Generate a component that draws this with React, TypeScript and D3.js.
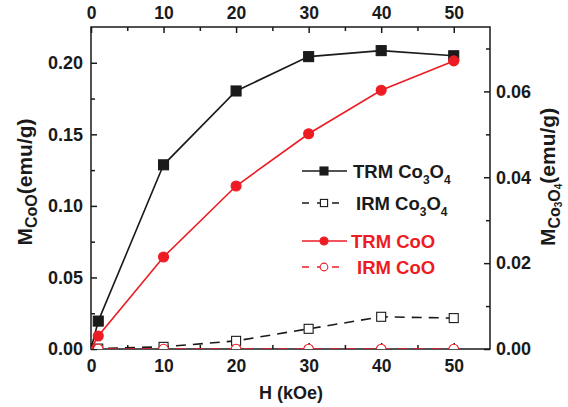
import React, { useRef, useEffect } from 'react';
import * as d3 from 'd3';

// field (kOe) and remanent magnetisation
const fieldH = [0, 1, 10, 20, 30, 40, 50];
const trmCo3O4 = [0, 0.0065, 0.0429, 0.0601, 0.0681, 0.0695, 0.0683];
const irmCo3O4 = [0, 0.0001, 0.0005, 0.0019, 0.0047, 0.0075, 0.0072];
const trmCoO = [0, 0.0091, 0.0643, 0.1139, 0.1504, 0.1808, 0.2013];
const irmCoO = [0, 0, 0, 0, 0, 0, 0];

const xTicks = [0, 10, 20, 30, 40, 50];
const xMinor = [5, 15, 25, 35, 45];
const leftTicks = [0, 0.05, 0.1, 0.15, 0.2];
const leftMinor = [0.025, 0.075, 0.125, 0.175];
const rightTicks = [0, 0.02, 0.04, 0.06];
const rightMinor = [0.01, 0.03, 0.05, 0.07];

const BLACK = '#1a1a1a';
const RED = '#ed1c24';
const FONT = "'Liberation Sans', Arial, sans-serif";

function App() {
  const svgRef = useRef<SVGSVGElement>(null);
  const width = 568;
  const height = 407;
  const m = { left: 91, right: 490, top: 27, bottom: 349 };

  useEffect(() => {
    const svg = d3.select(svgRef.current);
    svg.selectAll('*').remove();

    const x = d3.scaleLinear().domain([0, 55]).range([m.left, m.right]);
    const yL = d3.scaleLinear().domain([0, 0.225]).range([m.bottom, m.top]);
    const yR = d3.scaleLinear().domain([0, 0.075]).range([m.bottom, m.top]);

    svg
      .append('clipPath')
      .attr('id', 'plotClip')
      .append('rect')
      .attr('x', m.left)
      .attr('y', m.top)
      .attr('width', m.right - m.left)
      .attr('height', m.bottom - m.top);

    const addAxis = (axis: any, transform: string, fontSize = 18) => {
      const g = svg.append('g').attr('transform', transform).call(axis);
      g.select('.domain').remove();
      g.selectAll('line').attr('stroke', BLACK).attr('stroke-width', 1.5);
      g.selectAll('text')
        .attr('font-family', FONT)
        .attr('font-size', fontSize)
        .attr('font-weight', 'bold')
        .attr('fill', BLACK);
      return g;
    };
    const none = () => '';

    // major + minor ticks, all pointing inward
    addAxis(d3.axisBottom(x).tickValues(xTicks).tickSizeInner(-6).tickSizeOuter(0).tickPadding(11), `translate(0,${m.bottom})`, 17.5);
    addAxis(d3.axisBottom(x).tickValues(xMinor).tickSizeInner(-4).tickSizeOuter(0).tickFormat(none), `translate(0,${m.bottom})`);
    addAxis(d3.axisTop(x).tickValues(xTicks).tickSizeInner(-6).tickSizeOuter(0).tickPadding(8), `translate(0,${m.top})`, 17.5);
    addAxis(d3.axisTop(x).tickValues(xMinor).tickSizeInner(-4).tickSizeOuter(0).tickFormat(none), `translate(0,${m.top})`);
    addAxis(d3.axisLeft(yL).tickValues(leftTicks).tickSizeInner(-6).tickSizeOuter(0).tickPadding(8).tickFormat(d3.format('.2f')), `translate(${m.left},0)`);
    addAxis(d3.axisLeft(yL).tickValues(leftMinor).tickSizeInner(-4).tickSizeOuter(0).tickFormat(none), `translate(${m.left},0)`);
    addAxis(d3.axisRight(yR).tickValues(rightTicks).tickSizeInner(-6).tickSizeOuter(0).tickPadding(6).tickFormat(d3.format('.2f')), `translate(${m.right},0)`);
    addAxis(d3.axisRight(yR).tickValues(rightMinor).tickSizeInner(-4).tickSizeOuter(0).tickFormat(none), `translate(${m.right},0)`);

    svg
      .append('rect')
      .attr('x', m.left)
      .attr('y', m.top)
      .attr('width', m.right - m.left)
      .attr('height', m.bottom - m.top)
      .attr('fill', 'none')
      .attr('stroke', BLACK)
      .attr('stroke-width', 1.5);

    const series = [
      { values: trmCo3O4, y: yR, color: BLACK, dash: null, shape: 'square', filled: true },
      { values: irmCo3O4, y: yR, color: BLACK, dash: '10,7', shape: 'square', filled: false },
      { values: trmCoO, y: yL, color: RED, dash: null, shape: 'circle', filled: true },
      { values: irmCoO, y: yL, color: RED, dash: '10,7', shape: 'circle', filled: false },
    ];

    const plot = svg.append('g').attr('clip-path', 'url(#plotClip)');

    const drawMarker = (g: any, s: any, cx: number, cy: number, scale = 1) => {
      if (s.shape === 'square') {
        const size = (s.filled ? 10 : 9) * scale;
        g.append('rect')
          .attr('x', cx - size / 2)
          .attr('y', cy - size / 2)
          .attr('width', size)
          .attr('height', size)
          .attr('fill', s.filled ? s.color : 'white')
          .attr('stroke', s.color)
          .attr('stroke-width', 1.1);
      } else {
        g.append('circle')
          .attr('cx', cx)
          .attr('cy', cy)
          .attr('r', (s.filled ? 5 : 4.8) * scale)
          .attr('fill', s.filled ? s.color : 'white')
          .attr('stroke', s.color)
          .attr('stroke-width', 1.1);
      }
    };

    series.forEach((s) => {
      const pathGen = d3
        .line<number>()
        .x((d, i) => x(fieldH[i]))
        .y((d) => s.y(d));
      plot
        .append('path')
        .attr('d', pathGen(s.values))
        .attr('fill', 'none')
        .attr('stroke', s.color)
        .attr('stroke-width', 1.6)
        .attr('stroke-dasharray', s.dash);
      s.values.forEach((v, i) => {
        if (fieldH[i] > 0) drawMarker(plot, s, x(fieldH[i]), s.y(v));
      });
    });

    // legend
    const legendRows = [
      { s: series[0], y: 171, tx: 353, label: ['TRM Co', '3', 'O', '4'] },
      { s: series[1], y: 203, tx: 356, label: ['IRM Co', '3', 'O', '4'] },
      { s: series[2], y: 241, tx: 351, label: ['TRM CoO'] },
      { s: series[3], y: 267, tx: 357, label: ['IRM CoO'] },
    ];
    const legend = svg.append('g');
    legendRows.forEach((row) => {
      legend
        .append('line')
        .attr('x1', 302)
        .attr('x2', 347)
        .attr('y1', row.y)
        .attr('y2', row.y)
        .attr('stroke', row.s.color)
        .attr('stroke-width', 1.6)
        .attr('stroke-dasharray', row.s.dash ? '7,8' : null);
      drawMarker(legend, row.s, 324, row.y, 0.8);
      const t = legend
        .append('text')
        .attr('x', row.tx)
        .attr('y', row.y + 6.5)
        .attr('font-family', FONT)
        .attr('font-size', 18.5)
        .attr('font-weight', 'bold')
        .attr('fill', row.s.color);
      row.label.forEach((part, i) => {
        const sub = i % 2 === 1;
        t.append('tspan')
          .attr('font-size', sub ? 12 : 18.5)
          .attr('dy', i === 0 ? 0 : sub ? 6 : -6)
          .text(part);
      });
    });

    // axis titles
    svg
      .append('text')
      .attr('x', 291)
      .attr('y', 399)
      .attr('text-anchor', 'middle')
      .attr('font-family', FONT)
      .attr('font-size', 18)
      .attr('font-weight', 'bold')
      .attr('fill', BLACK)
      .text('H (kOe)');

    const leftTitle = svg
      .append('text')
      .attr('transform', 'translate(32,182) rotate(-90)')
      .attr('text-anchor', 'middle')
      .attr('font-family', FONT)
      .attr('font-weight', 'bold')
      .attr('fill', BLACK);
    leftTitle.append('tspan').attr('font-size', 21).text('M');
    leftTitle.append('tspan').attr('font-size', 16).attr('dy', 5).text('CoO');
    leftTitle.append('tspan').attr('font-size', 21).attr('dy', -5).text('(emu/g)');

    const rightTitle = svg
      .append('text')
      .attr('transform', 'translate(555,177) rotate(-90)')
      .attr('text-anchor', 'middle')
      .attr('font-family', FONT)
      .attr('font-weight', 'bold')
      .attr('fill', BLACK);
    rightTitle.append('tspan').attr('font-size', 21).text('M');
    rightTitle.append('tspan').attr('font-size', 16).attr('dy', 5).text('Co');
    rightTitle.append('tspan').attr('font-size', 10).attr('dy', 2).text('3');
    rightTitle.append('tspan').attr('font-size', 16).attr('dy', -2).text('O');
    rightTitle.append('tspan').attr('font-size', 10).attr('dy', 2).text('4');
    rightTitle.append('tspan').attr('font-size', 21).attr('dy', -7).text('(emu/g)');
  }, []);

  return <svg ref={svgRef} width={width} height={height} style={{ display: 'block', position: 'absolute', left: 0, top: 0 }} />;
}

export default App;
